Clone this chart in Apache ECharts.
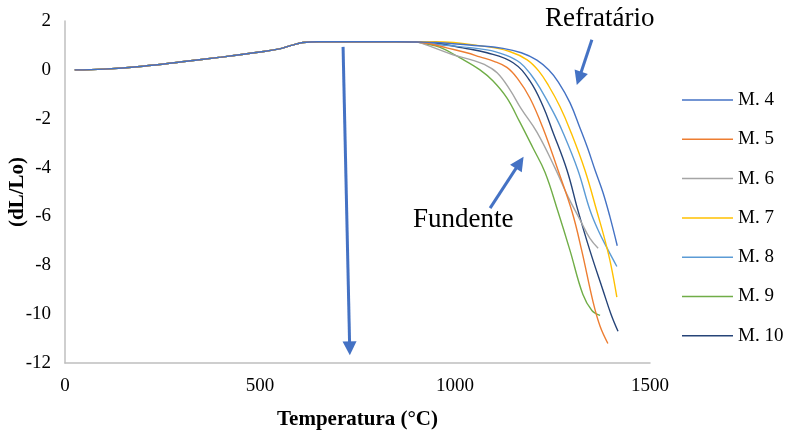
<!DOCTYPE html>
<html>
<head>
<meta charset="utf-8">
<script src="https://cdn.jsdelivr.net/npm/echarts@6/dist/echarts.min.js"></script>
<style>
html,body{margin:0;padding:0;background:#fff;}
#chart{width:787px;height:432px;}
</style>
</head>
<body>
<div id="chart"></div>
<script>
// Shared heating portion (°C, dL/Lo)
var baseT = [25, 100, 200, 300, 400, 500, 550, 580, 610, 650, 750, 850, 900];
var baseV = [0, 0.03, 0.15, 0.33, 0.52, 0.73, 0.86, 1.0, 1.12, 1.15, 1.15, 1.15, 1.14];

// Individual tails [temperature, dL/Lo]
var m4  = [[950,1.12],[1050,1.0],[1123,0.88],[1170,0.7],[1210,0.4],[1240,0.0],[1265,-0.5],[1295,-1.35],[1321,-2.4],[1340,-3.2],[1359,-4.1],[1379,-5.0],[1397,-6.0],[1416,-7.2]];
var m5  = [[940,1.05],[979,0.9],[1030,0.7],[1064,0.53],[1100,0.35],[1133,0.1],[1160,-0.35],[1192,-1.15],[1226,-2.4],[1264,-4.1],[1300,-5.8],[1325,-7.4],[1354,-9.5],[1372,-10.5],[1392,-11.2]];
var m6  = [[930,1.0],[995,0.62],[1040,0.42],[1075,0.22],[1108,-0.12],[1141,-0.82],[1170,-1.6],[1210,-2.55],[1256,-4.0],[1290,-5.2],[1321,-6.15],[1346,-6.9],[1367,-7.3]];
var m7  = [[950,1.15],[1082,0.95],[1140,0.75],[1185,0.41],[1215,-0.05],[1240,-0.65],[1269,-1.5],[1295,-2.46],[1333,-4.1],[1364,-5.8],[1385,-7.0],[1400,-8.0],[1415,-9.3]];
var m8  = [[950,1.05],[1082,0.82],[1130,0.6],[1167,0.29],[1195,-0.2],[1218,-0.75],[1251,-1.7],[1274,-2.46],[1315,-4.1],[1346,-5.74],[1368,-6.6],[1390,-7.3],[1415,-8.05]];
var m9  = [[920,1.08],[962,0.92],[1013,0.49],[1064,0.0],[1097,-0.45],[1133,-1.15],[1165,-2.1],[1200,-3.2],[1231,-4.2],[1264,-5.8],[1295,-7.4],[1328,-9.2],[1351,-9.85],[1372,-10.05]];
var m10 = [[950,1.1],[1020,0.9],[1082,0.7],[1149,0.29],[1192,-0.45],[1226,-1.5],[1249,-2.46],[1287,-4.1],[1315,-5.74],[1346,-7.4],[1379,-9.0],[1400,-10.0],[1418,-10.7]];

var seriesNames = ['M. 4','M. 5','M. 6','M. 7','M. 8','M. 9','M. 10'];
var tails = [m4, m5, m6, m7, m8, m9, m10];
var colors = ['#4472C4','#ED7D31','#A5A5A5','#FFC000','#5B9BD5','#70AD47','#264478'];

var xTicks = [0, 500, 1000, 1500];
var yTicks = [2, 0, -2, -4, -6, -8, -10, -12];

// annotation arrows in data coordinates [[T0,v0],[T1,v1]]
var arrowRefr = [[1351, 1.23], [1318, -0.35]];
var arrowFund = [[1090, -5.66], [1166, -3.8]];
var arrowDown = [[713, 0.94], [730, -11.4]];

var FONT = '"Liberation Serif","Times New Roman",serif';

function buildData(tail){
  var d = [];
  for (var i = 0; i < baseT.length; i++) {
    if (baseT[i] < tail[0][0]) d.push([baseT[i], baseV[i]]);
  }
  return d.concat(tail);
}

var series = seriesNames.map(function(n, i){
  return {
    name: n, type: 'line', data: buildData(tails[i]),
    smooth: 0.4, symbol: 'none', showSymbol: false,
    lineStyle: {width: 1.4, color: colors[i]},
    itemStyle: {color: colors[i]},
    z: 10 - i
  };
});

function arrowLine(a){
  return [{coord: a[0], symbol: 'none'}, {coord: a[1], symbol: 'triangle', symbolSize: 14}];
}
series.push({
  name: 'arrows', type: 'line', data: [], silent: true,
  markLine: {
    silent: true, animation: false,
    symbol: ['none', 'triangle'], symbolSize: 14,
    label: {show: false},
    lineStyle: {color: '#4472C4', width: 3, type: 'solid'},
    emphasis: {disabled: true},
    data: [arrowLine(arrowRefr), arrowLine(arrowFund), arrowLine(arrowDown)]
  }
});

var chart = echarts.init(document.getElementById('chart'), null, {renderer: 'canvas'});
chart.setOption({
  animation: false,
  backgroundColor: '#fff',
  textStyle: {fontFamily: FONT},
  grid: {left: 65, right: 137, top: 21, bottom: 69, containLabel: false, outerBoundsMode: 'none'},
  xAxis: {
    type: 'value', min: 0, max: 1500, interval: 500,
    name: 'Temperatura (°C)', nameLocation: 'middle', nameGap: 46, nameMoveOverlap: false,
    nameTextStyle: {fontFamily: FONT, fontSize: 21, fontWeight: 'bold', color: '#000'},
    axisLine: {show: true, onZero: false, lineStyle: {color: '#BFBFBF', width: 1.5}},
    axisTick: {show: false},
    splitLine: {show: false},
    axisLabel: {fontFamily: FONT, fontSize: 19, color: '#000', margin: 14,
      formatter: function(v){ return xTicks.indexOf(v) >= 0 ? String(v) : ''; }}
  },
  yAxis: {
    type: 'value', min: -12, max: 2, interval: 2,
    name: '(dL/Lo)', nameLocation: 'middle', nameGap: 37, nameRotate: 90, nameMoveOverlap: false,
    nameTextStyle: {fontFamily: FONT, fontSize: 21, fontWeight: 'bold', color: '#000'},
    axisLine: {show: true, onZero: false, lineStyle: {color: '#BFBFBF', width: 1.5}},
    axisTick: {show: false},
    splitLine: {show: false},
    axisLabel: {fontFamily: FONT, fontSize: 19, color: '#000', margin: 14,
      formatter: function(v){ return yTicks.indexOf(v) >= 0 ? String(v) : ''; }}
  },
  legend: {
    orient: 'vertical', left: 677, top: 85,
    icon: 'rect', itemWidth: 51, itemHeight: 1.5, itemGap: 19.3,
    data: seriesNames,
    textStyle: {fontFamily: FONT, fontSize: 19, color: '#000', lineHeight: 20}
  },
  graphic: [
    {type: 'text', left: 545, top: 5, style: {text: 'Refratário', font: '27px ' + FONT, fill: '#000'}},
    {type: 'text', left: 413, top: 206, style: {text: 'Fundente', font: '27px ' + FONT, fill: '#000'}}
  ],
  series: series
});
</script>
</body>
</html>
